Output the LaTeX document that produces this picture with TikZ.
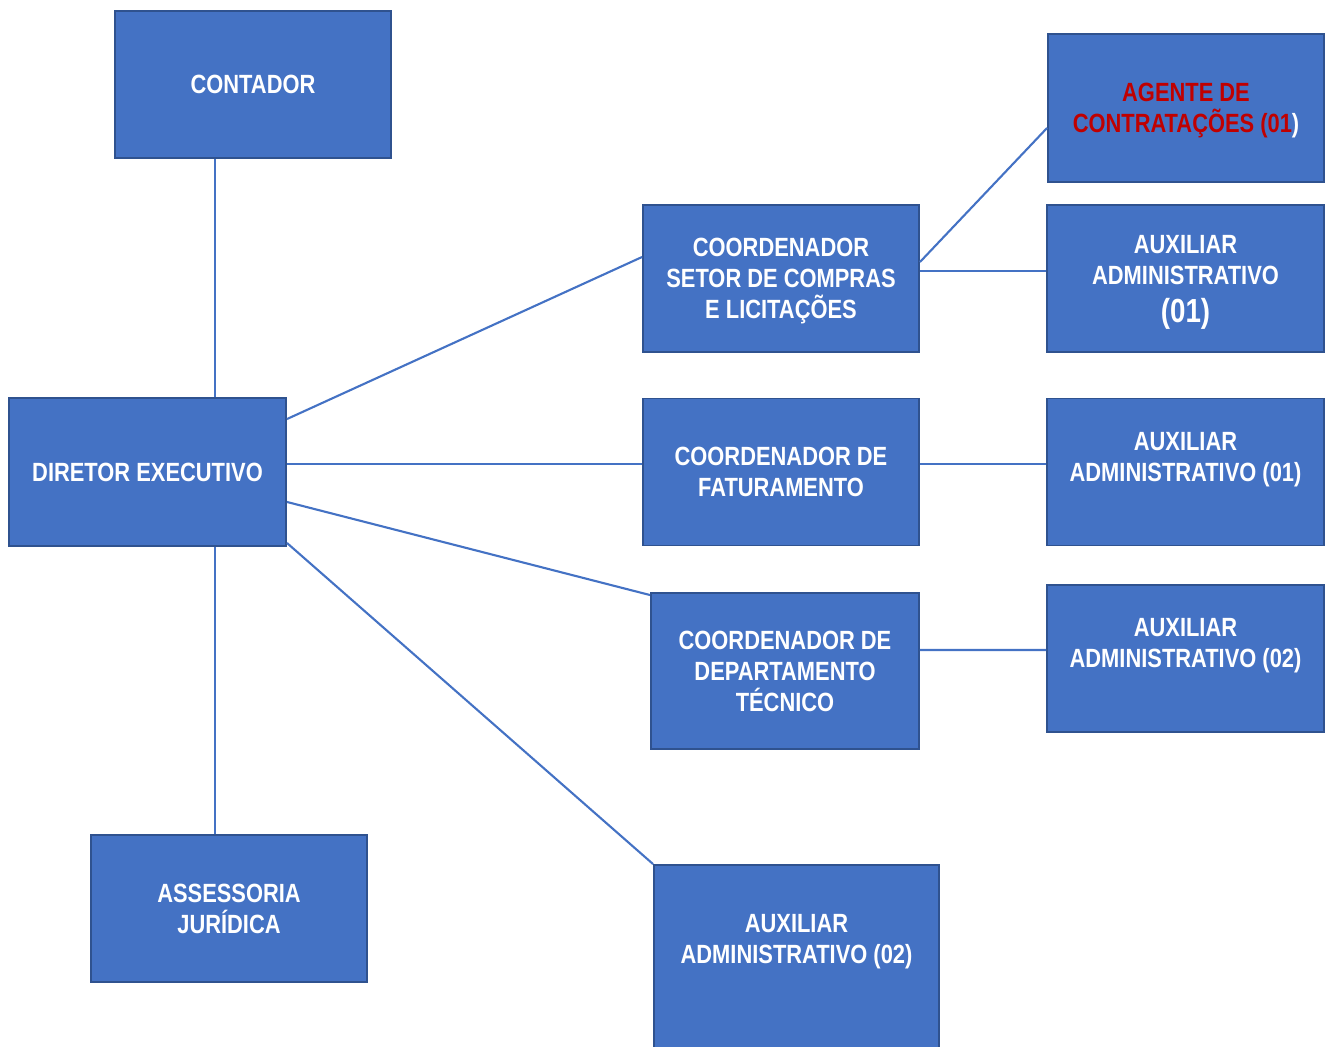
\documentclass[tikz,border=0pt]{standalone}
\usepackage{fontspec}
\setmainfont{Liberation Sans}[FakeStretch=0.83]
\definecolor{boxblue}{HTML}{4472C4}
\definecolor{boxedge}{HTML}{2F528F}
\definecolor{agentred}{HTML}{C00000}

\begin{document}
\begin{tikzpicture}[
  box/.style={draw=boxedge, line width=1.1pt, fill=boxblue, text=white,
    align=center, inner sep=0pt, text depth=0pt, font=\bfseries\fontsize{15}{17.6}\selectfont,
    minimum width=5.52cm, minimum height=2.94cm},
  link/.style={draw=boxblue, line width=1.2pt}]
\useasboundingbox (0,0) rectangle (26.5,-20.92);
\clip (0,0) rectangle (26.5,-20.92);
\coordinate (spine) at (4.30,0);
% left column
\node[box] (contador) at (5.06,-1.69) {CONTADOR};
\node[box, minimum width=5.54cm, minimum height=2.96cm] (diretor) at (2.95,-9.44) {DIRETOR EXECUTIVO};
\node[box] (assessoria) at (4.58,-18.17) {ASSESSORIA\\JURÍDICA};
% middle column
\node[box] (compras) at (15.62,-5.57) {COORDENADOR\\SETOR DE COMPRAS\\E LICITAÇÕES};
\node[box] (faturamento) at (15.62,-9.44) {COORDENADOR DE\\FATURAMENTO};
\node[box, minimum width=5.36cm, minimum height=3.12cm] (tecnico) at (15.70,-13.42) {COORDENADOR DE\\DEPARTAMENTO\\TÉCNICO};
\node[box, minimum width=5.70cm, minimum height=4.10cm] (auxdiretor) at (15.93,-19.35) {};
\node[text=white, align=center, font=\bfseries\fontsize{15}{17.6}\selectfont] (auxdiretortxt) at (15.93,-18.84) {AUXILIAR\\ADMINISTRATIVO (02)};
% right column
\node[box, minimum height=2.96cm] (agente) at (23.72,-2.16) {\textcolor{agentred}{AGENTE DE}\\\textcolor{agentred}{CONTRATAÇÕES (01})};
\node[box, minimum width=5.54cm] (auxcompras) at (23.71,-5.57) {AUXILIAR\\ADMINISTRATIVO\\[4pt]{\fontsize{19}{21}\selectfont(01)}};
\node[box, minimum width=5.54cm] (auxfat) at (23.71,-9.44) {AUXILIAR\\ADMINISTRATIVO (01)\\\mbox{}};
\node[box, minimum width=5.54cm] (auxtec) at (23.71,-13.17) {AUXILIAR\\ADMINISTRATIVO (02)\\\mbox{}};
% connectors
\path[link] (contador.south -| spine) -- (diretor.north -| spine);
\path[link] (diretor.south -| spine) -- (assessoria.north -| spine);
\path[link] ([yshift=-0.44cm]diretor.north east) -- ([yshift=0.43cm]compras.west);
\path[link] ([yshift=0.16cm]diretor.east) -- ([yshift=0.16cm]faturamento.west);
\path[link] ([yshift=0.9cm]diretor.south east) -- ([yshift=-0.06cm]tecnico.north west);
\path[link] ([yshift=0.08cm]diretor.south east) -- (auxdiretor.north west);
\path[link] ([yshift=0.33cm]compras.east) -- ([yshift=-0.40cm]agente.west);
\path[link] ([yshift=0.15cm]compras.east) -- ([yshift=0.15cm]auxcompras.west);
\path[link] ([yshift=0.16cm]faturamento.east) -- ([yshift=0.16cm]auxfat.west);
\path[link] ([yshift=0.42cm]tecnico.east) -- ([yshift=0.17cm]auxtec.west);
\end{tikzpicture}
\end{document}
